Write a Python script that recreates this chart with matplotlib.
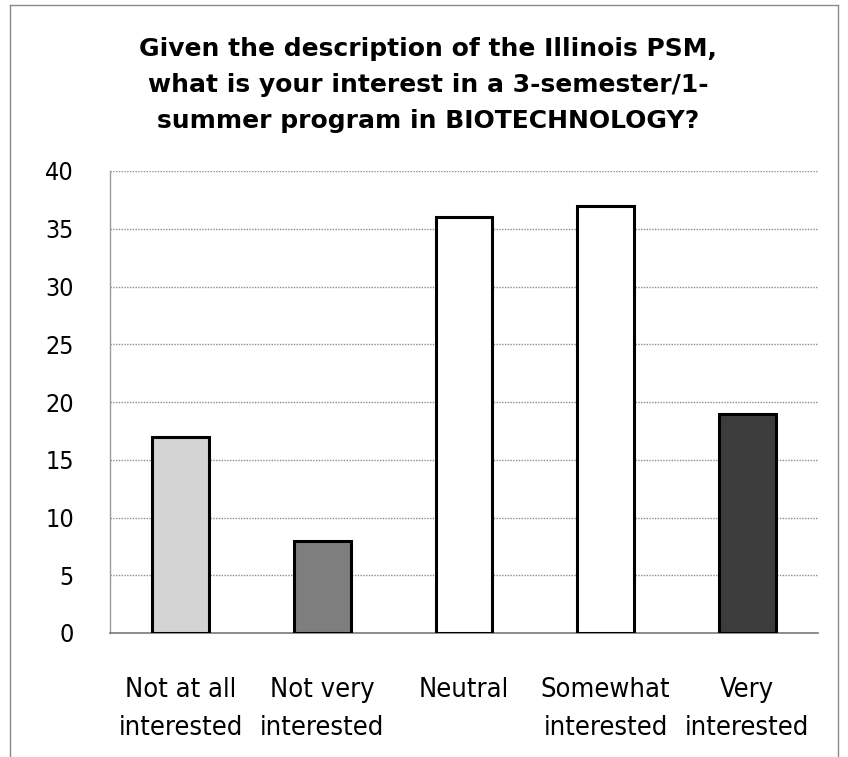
import matplotlib
matplotlib.use("Agg")
import matplotlib.pyplot as plt
from matplotlib.lines import Line2D

categories = ["Not at all\ninterested", "Not very\ninterested", "Neutral",
              "Somewhat\ninterested", "Very\ninterested"]
values = [17, 8, 36, 37, 19]
bar_colors = ["#d4d4d4", "#7e7e7e", "#ffffff", "#ffffff", "#3c3c3c"]
yticks = [0, 5, 10, 15, 20, 25, 30, 35, 40]
title = "Given the description of the Illinois PSM,\nwhat is your interest in a 3-semester/1-\nsummer program in BIOTECHNOLOGY?"

W, H = 848, 757
fig = plt.figure(figsize=(W/100, H/100), dpi=100)
fig.patch.set_facecolor("white")

# outer frame (left, top, right)
fx0, fx1, fy0 = 10/W, 838/W, 1 - 5/H
for xs, ys in [([fx0, fx0], [0, fy0]), ([fx0, fx1], [fy0, fy0]), ([fx1, fx1], [0, fy0])]:
    fig.add_artist(Line2D(xs, ys, color="#8a8a8a", lw=1.0, transform=fig.transFigure))

left, right = 110/W, 818/W
top, bottom = 1 - 171/H, 1 - 633/H
ax = fig.add_axes([left, bottom, right - left, top - bottom])

x = list(range(len(categories)))
ax.bar(x, values, width=0.40, color=bar_colors, edgecolor="black", linewidth=2.2, zorder=3)

ax.set_xlim(-0.5, len(categories) - 0.5)
ax.set_ylim(0, 40)
ax.set_yticks(yticks)
ax.set_xticks(x)
ax.set_xticklabels(categories, fontsize=19.5, fontstretch="condensed", linespacing=1.6)
ax.set_yticklabels([str(v) for v in yticks], fontsize=18, fontstretch="condensed")
ax.tick_params(axis="both", length=0)
ax.tick_params(axis="x", pad=32)
ax.tick_params(axis="y", pad=26)

ax.grid(axis="y", color="#8c8c8c", linestyle=(0, (1, 1)), linewidth=1.0, zorder=0)
for s in ["top", "right"]:
    ax.spines[s].set_visible(False)
ax.spines["left"].set_color("#9a9a9a")
ax.spines["left"].set_linestyle((0, (1, 1)))
ax.spines["left"].set_linewidth(1.0)
ax.spines["bottom"].set_color("#7a7a7a")
ax.spines["bottom"].set_linewidth(1.2)

fig.text((fx0 + fx1) / 2 + 0.005, 1 - 37/H, title, ha="center", va="top",
         fontsize=18, fontweight="bold", linespacing=1.62)

fig.savefig("out.png", dpi=100, facecolor="white")
